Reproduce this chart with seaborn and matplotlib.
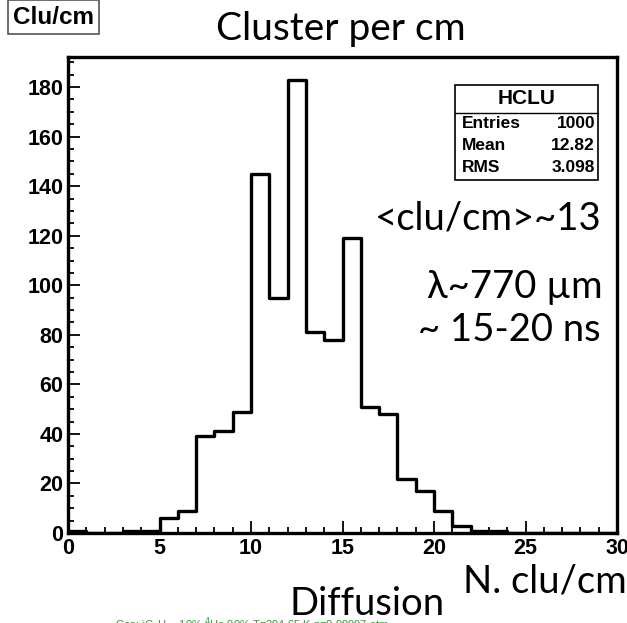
import numpy as np
import pandas as pd
import matplotlib
matplotlib.use("Agg")
import matplotlib.pyplot as plt
import seaborn as sns
from matplotlib.patches import Rectangle

# ---- data ----
bin_left = list(range(0, 30))
counts = [1, 0, 0, 1, 1, 6, 9, 39, 41, 49,
          145, 95, 183, 81, 78, 119, 51, 48, 22, 17,
          9, 3, 1, 1, 0, 0, 0, 0, 0, 0]
x_ticks = [0, 5, 10, 15, 20, 25, 30]
y_ticks = [0, 20, 40, 60, 80, 100, 120, 140, 160, 180]
stats_labels = ["Entries", "Mean", "RMS"]
stats_values = ["1000", "12.82", "3.098"]

sns.set_theme(style="white")
plt.rcParams["font.family"] = ["Liberation Sans", "DejaVu Sans"]
plt.rcParams["text.color"] = "black"
plt.rcParams["xtick.color"] = "black"
plt.rcParams["ytick.color"] = "black"

W, H = 627, 623
fig = plt.figure(figsize=(W / 100, H / 100), dpi=100)
L, R, T, B = 68, 617, 57, 533
ax = fig.add_axes([L / W, 1 - B / H, (R - L) / W, (B - T) / H])

df = pd.DataFrame({"center": [b + 0.5 for b in bin_left], "count": counts})
sns.histplot(data=df, x="center", weights="count", binwidth=1, binrange=(0, 30),
             element="step", fill=False, color="black", linewidth=2.4, ax=ax)

ax.set_xlim(0, 30)
ax.set_ylim(0, 1.05 * max(counts))
ax.set_xlabel("")
ax.set_ylabel("")
ax.set_xticks(x_ticks)
ax.set_yticks(y_ticks)
ax.set_xticks(np.arange(0, 31, 1), minor=True)
ax.set_yticks(np.arange(0, 195, 5), minor=True)
ax.tick_params(axis="both", which="major", direction="in", length=8.5, width=1.3,
               color="black", labelcolor="black", labelsize=15.5, pad=3.5,
               top=False, right=False, bottom=True, left=True)
ax.tick_params(axis="both", which="minor", direction="in", length=4.5, width=1.3,
               color="black", top=False, right=False, bottom=True, left=True)
for lab in ax.get_xticklabels() + ax.get_yticklabels():
    lab.set_fontweight("bold")
for s in ax.spines.values():
    s.set_linewidth(2.4)
    s.set_color("black")
    s.set_visible(True)
ax.grid(False)

def fx(px):
    return px / W

def fy(py):
    return 1 - py / H

# top-left title box
fig.text(fx(13), fy(17), "Clu/cm", fontsize=17.5, fontweight="bold", va="center",
         ha="left", color="black",
         bbox=dict(boxstyle="square,pad=0.22", fc="white", ec="#555555", lw=1.2))

# main title
fam = ["Lato", "DejaVu Sans"]
fig.text(fx(341), fy(29), "Cluster per cm", fontsize=28, ha="center", va="center",
         family=fam, color="black")

# stats box
bx0, bx1, by0, by1, byh = 455, 598, 85, 180, 113
fig.patches.append(Rectangle((fx(bx0), fy(by1)), fx(bx1) - fx(bx0), fy(by0) - fy(by1),
                             transform=fig.transFigure, fc="white", ec="black", lw=1.2))
fig.lines.append(plt.Line2D([fx(bx0), fx(bx1)], [fy(byh), fy(byh)],
                            transform=fig.transFigure, color="black", lw=1.0))
fig.text(fx((bx0 + bx1) / 2), fy(99), "HCLU", fontsize=15, fontweight="bold",
         ha="center", va="center", color="black")
for i, (lab, val) in enumerate(zip(stats_labels, stats_values)):
    yy = 124 + i * 21.5
    fig.text(fx(462), fy(yy), lab, fontsize=12.5, fontweight="bold", ha="left",
             va="center", color="black")
    fig.text(fx(595), fy(yy), val, fontsize=12.5, fontweight="bold", ha="right",
             va="center", color="black")

# annotations
kw = dict(fontsize=27.5, va="center", family=fam, color="black")
fig.text(fx(602), fy(219), "<clu/cm>~13", ha="right", **kw)
fig.text(fx(603), fy(287), "λ~770 µm", ha="right", **kw)
fig.text(fx(601), fy(330), "~ 15-20 ns", ha="right", **kw)
fig.text(fx(627), fy(581), "N. clu/cm", ha="right", **kw)
fig.text(fx(367), fy(604), "Diffusion", ha="center", **kw)

fig.text(fx(115), fy(615), r"Gas: iC$_4$H$_{10}$ 10% $^4$He 90% T=294.65 K p=0.99997 atm",
         fontsize=8, color="#2ca02c", ha="left", va="top",
         family=["Liberation Sans", "DejaVu Sans"])

fig.savefig("out.png", dpi=100)
